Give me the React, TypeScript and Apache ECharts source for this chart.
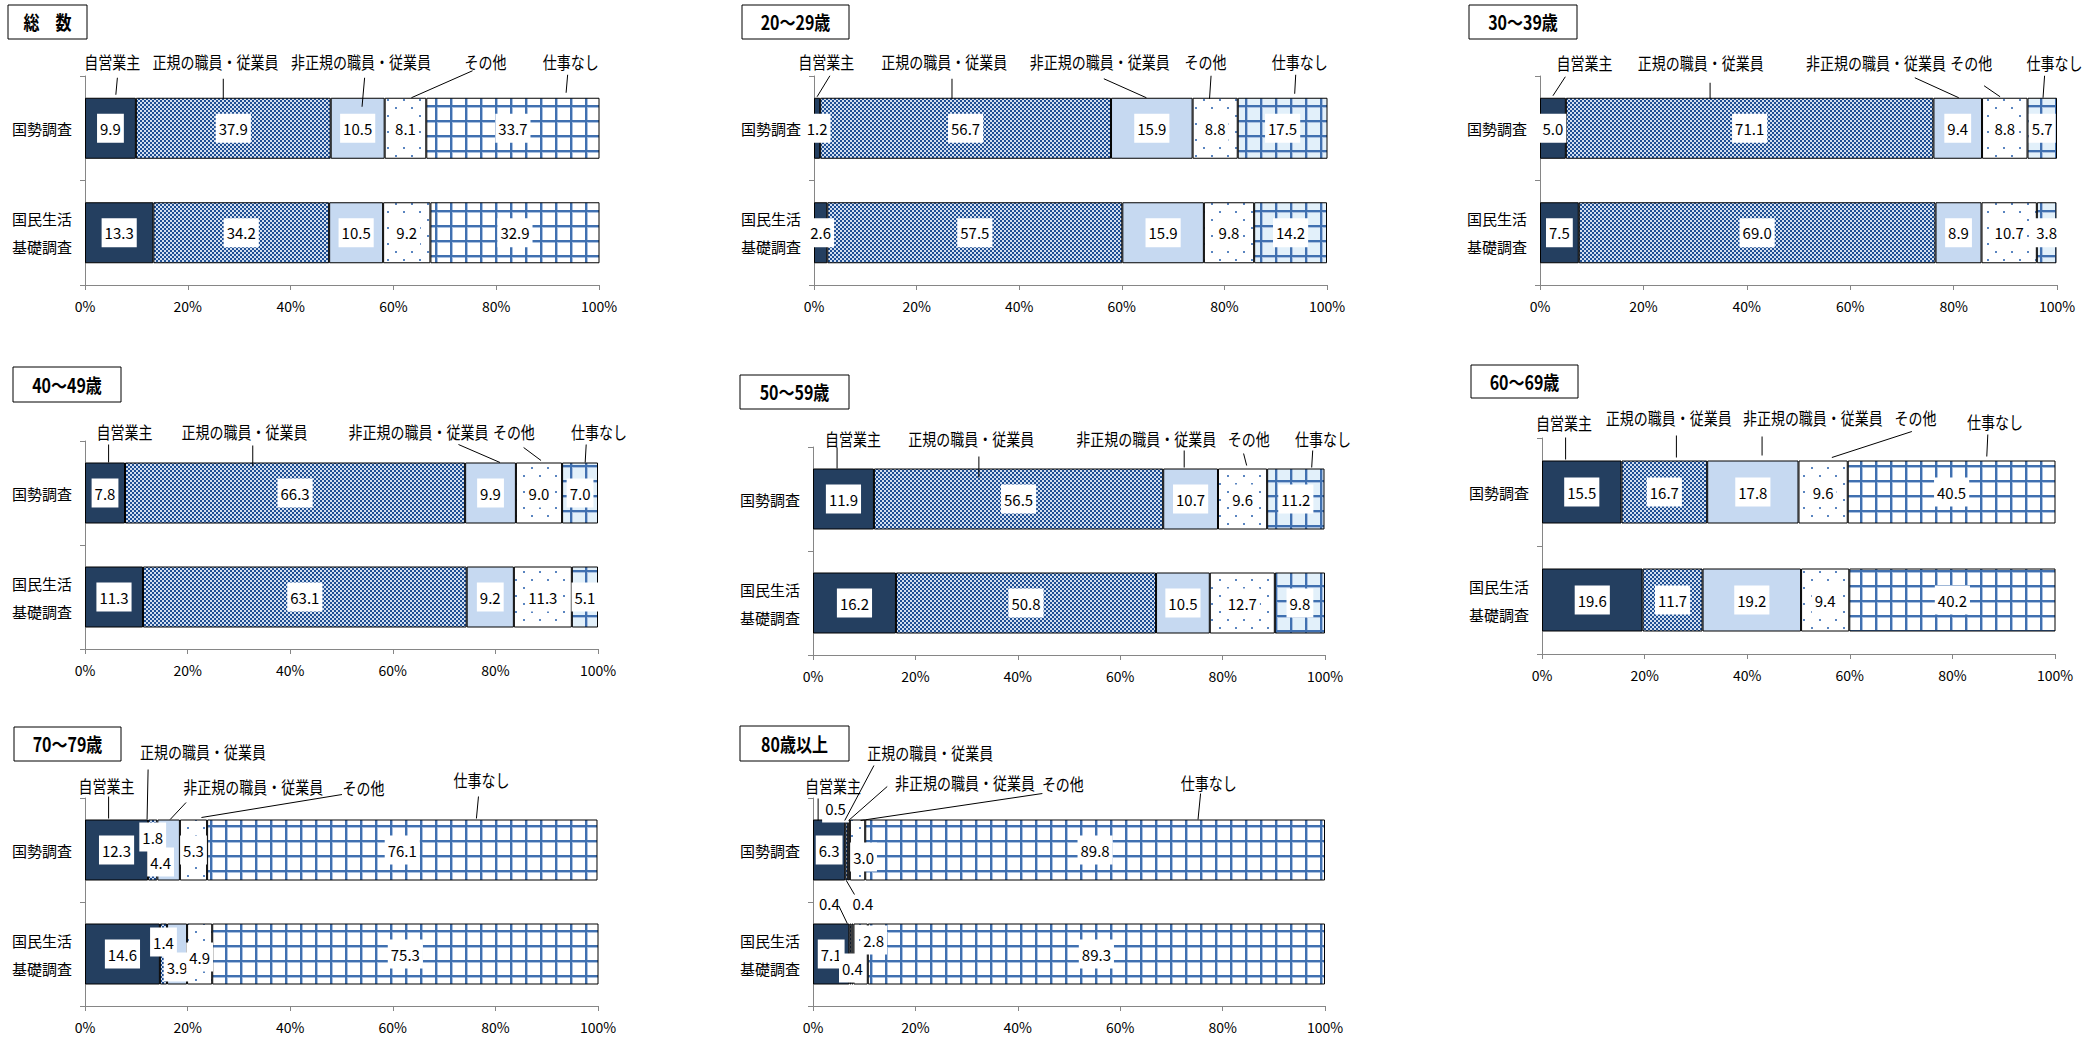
import React, { useEffect, useRef } from 'react';
import * as echarts from 'echarts';

// ---------- data ----------
const seriesNames = ['自営業主', '正規の職員・従業員', '非正規の職員・従業員', 'その他', '仕事なし'];
const surveyNames = ['国勢調査', '国民生活\n基礎調査'];
const panelTitles = ['総　数', '20～29歳', '30～39歳', '40～49歳', '50～59歳', '60～69歳', '70～79歳', '80歳以上'];
const xTickValues = [0, 20, 40, 60, 80, 100];

// each entry: [国勢調査, 国民生活基礎調査] for one panel
const selfEmployed = [[9.9, 13.3], [1.2, 2.6], [5.0, 7.5], [7.8, 11.3], [11.9, 16.2], [15.5, 19.6], [12.3, 14.6], [6.3, 7.1]];
const regular = [[37.9, 34.2], [56.7, 57.5], [71.1, 69.0], [66.3, 63.1], [56.5, 50.8], [16.7, 11.7], [1.8, 1.4], [0.5, 0.4]];
const nonRegular = [[10.5, 10.5], [15.9, 15.9], [9.4, 8.9], [9.9, 9.2], [10.7, 10.5], [17.8, 19.2], [4.4, 3.9], [0.4, 0.4]];
const other = [[8.1, 9.2], [8.8, 9.8], [8.8, 10.7], [9.0, 11.3], [9.6, 12.7], [9.6, 9.4], [5.3, 4.9], [3.0, 2.8]];
const noJob = [[33.7, 32.9], [17.5, 14.2], [5.7, 3.8], [7.0, 5.1], [11.2, 9.8], [40.5, 40.2], [76.1, 75.3], [89.8, 89.3]];
const seriesData = [selfEmployed, regular, nonRegular, other, noJob];

// ---------- layout ----------
const W = 2096;
const H = 1040;
const FONT = '"Noto Sans CJK JP", "Noto Sans", sans-serif';
const TEXT_STRETCH = 1.2;

const panelGrids = [
  { left: 85, top: 76, width: 514, height: 209 },
  { left: 814, top: 76, width: 513, height: 209 },
  { left: 1540, top: 76, width: 517, height: 209 },
  { left: 85, top: 441, width: 513, height: 208 },
  { left: 813, top: 447, width: 512, height: 208 },
  { left: 1542, top: 438, width: 513, height: 216 },
  { left: 85, top: 798, width: 513, height: 208 },
  { left: 813, top: 798, width: 512, height: 208 },
];
const panelBarWidth = [61, 61, 61, 61, 61, 63, 61, 61];
const titleBoxes = [
  [8, 5, 79, 34], [742, 5, 107, 34], [1469, 5, 108, 34],
  [13, 367, 108, 35], [740, 375, 109, 34], [1471, 365, 107, 33],
  [14, 727, 107, 34], [740, 726, 109, 35],
];
const tintedNoJobPanels = [1, 2, 3, 4];

// annotation per panel & series: [textX%, textY(px rel. bar top), lineX1%, lineY1, lineX2%, lineY2]
const annotations = [
  [[5.3, -36, 6.3, -20, 6.0, -3], [25.4, -36, 26.9, -19, 26.9, 1], [53.7, -36, 54.4, -20, 53.9, 9], [77.9, -36, 75.4, -27, 63.5, 0], [94.5, -36, 93.9, -23, 93.6, -5]],
  [[2.4, -36, 3.1, -22, 0.6, -1], [25.4, -36, 26.9, -19, 26.9, 1], [55.7, -36, 56.5, -19, 64.8, 0], [76.3, -36, 77.4, -22, 77.1, 1], [94.7, -36, 93.9, -23, 93.7, -4]],
  [[8.6, -35, 4.9, -21, 2.5, -2], [31.1, -35, 32.9, -15, 32.9, 1], [65.0, -35, 72.5, -20, 81.0, 0], [83.4, -35, 85.9, -12, 89.0, -1], [99.5, -35, 97.6, -22, 97.3, 0]],
  [[7.7, -31, 4.6, -18, 4.6, 0], [31.1, -31, 32.7, -17, 32.7, 4], [65.0, -31, 72.8, -18, 80.9, 0], [83.6, -31, 85.5, -15, 88.9, -2], [100.2, -31, 97.7, -18, 97.5, 0]],
  [[7.8, -30, 4.7, -21, 4.7, 0], [30.9, -30, 32.4, -12, 32.4, 9], [65.1, -30, 72.5, -18, 72.5, -1], [85.1, -30, 84.1, -15, 84.7, -3], [99.6, -30, 97.6, -18, 97.4, -1]],
  [[4.3, -38, 4.6, -23, 4.6, -1], [24.7, -43, 26.2, -25, 26.2, -3], [52.8, -43, 42.9, -24, 42.9, -5], [72.8, -43, 72.1, -29, 56.5, -3], [88.3, -39, 86.9, -26, 86.7, -4]],
  [[4.2, -34, 4.6, -23, 4.6, -1], [23.0, -68, 12.3, -50, 12.1, 0], [32.8, -33, 19.7, -17, 16.6, 0], [54.3, -32, 50.1, -25, 22.7, -2], [77.3, -40, 76.7, -23, 76.3, -1]],
  [[3.9, -34, 1.0, -21, 1.0, 1], [22.9, -67, 11.9, -54, 6.2, 1], [29.7, -37, 14.5, -33, 6.95, 1], [48.8, -36, 44.8, -26, 9.3, 1], [77.3, -37, 75.7, -26, 75.2, 0]],
];

// value label shifts: key panel-series-row -> [dx, dy]
const labelShifts: Record<string, [number, number]> = {
  '6-1-0': [0, -13], '6-2-0': [-8, 12], '6-1-1': [0, -12], '6-2-1': [0, 13], '6-3-1': [0, 3],
  '7-1-0': [-11, -42], '7-2-0': [14, 53], '7-3-0': [6, 7],
  '7-1-1': [-21, -51], '7-2-1': [0, 14], '7-3-1': [13, -14],
};

// extra leader lines for displaced small labels
const extraLines = [
  { panel: 7, row: 0, edge: 'bottom', x1: 6.5, y1: 0, x2: 8.1, y2: 14 },
  { panel: 7, row: 1, edge: 'top', x1: 5.1, y1: -17, x2: 6.7, y2: 0 },
];

function makeTile(w: number, h: number, draw: (ctx: CanvasRenderingContext2D) => void) {
  const c = document.createElement('canvas');
  c.width = w;
  c.height = h;
  const ctx = c.getContext('2d')!;
  draw(ctx);
  return { image: c.toDataURL(), repeat: 'repeat', imageWidth: w, imageHeight: h };
}

function makeFills() {
  const checker = makeTile(4, 4, (ctx) => {
    ctx.fillStyle = '#d3dff0';
    ctx.fillRect(0, 0, 4, 4);
    ctx.fillStyle = '#1f4f93';
    ctx.fillRect(0, 0, 2, 2);
    ctx.fillRect(2, 2, 2, 2);
  });
  const dots = makeTile(16, 16, (ctx) => {
    ctx.fillStyle = '#ffffff';
    ctx.fillRect(0, 0, 16, 16);
    ctx.fillStyle = '#5a85c0';
    ctx.fillRect(3, 3, 2, 2);
    ctx.fillRect(11, 11, 2, 2);
  });
  const grid = (bg: string) =>
    makeTile(15, 15, (ctx) => {
      ctx.fillStyle = bg;
      ctx.fillRect(0, 0, 15, 15);
      ctx.fillStyle = '#a9c0e0';
      ctx.fillRect(2, 0, 1, 15);
      ctx.fillRect(0, 2, 15, 1);
      ctx.fillStyle = '#4070b0';
      ctx.fillRect(0, 0, 2, 15);
      ctx.fillRect(0, 0, 15, 2);
    });
  return {
    selfEmployed: '#243f60',
    regular: checker,
    nonRegular: '#c6d9f1',
    other: dots,
    noJobWhite: grid('#ffffff'),
    noJobTint: grid('#e2f0fa'),
  };
}

function buildOption(fills: any) {
  const grids: any[] = [];
  const xAxes: any[] = [];
  const yAxes: any[] = [];
  const series: any[] = [];
  panelGrids.forEach((g, p) => {
    grids.push({ ...g, containLabel: false });
    xAxes.push({
      gridIndex: p,
      type: 'value',
      min: xTickValues[0],
      max: xTickValues[xTickValues.length - 1],
      interval: xTickValues[1] - xTickValues[0],
      axisLabel: { formatter: '{value}%', fontSize: 14, color: '#000', margin: 14, fontFamily: FONT },
      axisLine: { show: true, lineStyle: { color: '#868686', width: 1 } },
      axisTick: { show: true, length: 5, lineStyle: { color: '#868686' } },
      splitLine: { show: false },
    });
    yAxes.push({
      gridIndex: p,
      type: 'category',
      data: surveyNames,
      inverse: true,
      axisLabel: { fontSize: 15, lineHeight: 28, color: '#000', margin: 13, fontFamily: FONT },
      axisLine: { show: true, lineStyle: { color: '#868686', width: 1 } },
      axisTick: { show: true, length: 5, lineStyle: { color: '#868686' } },
      splitLine: { show: false },
    });
    const colors = [
      fills.selfEmployed,
      fills.regular,
      fills.nonRegular,
      fills.other,
      tintedNoJobPanels.includes(p) ? fills.noJobTint : fills.noJobWhite,
    ];
    seriesNames.forEach((name, s) => {
      series.push({
        type: 'bar',
        name,
        stack: 'panel' + p,
        xAxisIndex: p,
        yAxisIndex: p,
        barWidth: panelBarWidth[p],
        itemStyle: { color: colors[s], borderColor: '#000', borderWidth: 1 },
        label: {
          show: true,
          position: 'inside',
          formatter: (prm: any) => Number(prm.value).toFixed(1),
          backgroundColor: '#fff',
          padding: [7, 3],
          color: '#000',
          fontSize: 15,
          fontFamily: FONT,
        },
        data: seriesData[s][p].map((v, r) => {
          const shift = labelShifts[`${p}-${s}-${r}`];
          return shift ? { value: v, label: { offset: shift } } : { value: v };
        }),
      });
    });
  });
  return {
    animation: false,
    backgroundColor: '#fff',
    textStyle: { fontFamily: FONT },
    grid: grids,
    xAxis: xAxes,
    yAxis: yAxes,
    series,
  };
}

function buildGraphics(chart: any) {
  const els: any[] = [];
  const textEl = (text: string, x: number, y: number, font: string, z: number) => ({
    type: 'text',
    z,
    x,
    y,
    scaleY: TEXT_STRETCH,
    style: {
      text,
      font,
      fill: '#000',
      align: 'center',
      verticalAlign: 'middle',
      textAlign: 'center',
      textVerticalAlign: 'middle',
    },
  });
  panelTitles.forEach((title, p) => {
    const [bx, by, bw, bh] = titleBoxes[p];
    els.push({ type: 'rect', z: 50, shape: { x: bx, y: by, width: bw, height: bh }, style: { fill: '#fff', stroke: '#000', lineWidth: 1 } });
    els.push(textEl(title, bx + bw / 2, by + bh / 2, `bold 16px ${FONT}`, 51));

    const finder = { xAxisIndex: p, yAxisIndex: p };
    const px = (v: number, row: number) => chart.convertToPixel(finder, [v, row]);
    const half = panelBarWidth[p] / 2;
    const barTop = px(0, 0)[1] - half;
    annotations[p].forEach((a, s) => {
      const [tx, ty, x1, y1, x2, y2] = a;
      els.push(textEl(seriesNames[s], px(tx, 0)[0], barTop + ty, `14px ${FONT}`, 51));
      els.push({
        type: 'line',
        z: 50,
        shape: { x1: px(x1, 0)[0], y1: barTop + y1, x2: px(x2, 0)[0], y2: barTop + y2 },
        style: { stroke: '#000', lineWidth: 1 },
      });
    });
  });
  extraLines.forEach((l) => {
    const finder = { xAxisIndex: l.panel, yAxisIndex: l.panel };
    const c = chart.convertToPixel(finder, [0, l.row]);
    const half = panelBarWidth[l.panel] / 2;
    const base = l.edge === 'top' ? c[1] - half : c[1] + half;
    els.push({
      type: 'line',
      z: 50,
      shape: {
        x1: chart.convertToPixel(finder, [l.x1, l.row])[0],
        y1: base + l.y1,
        x2: chart.convertToPixel(finder, [l.x2, l.row])[0],
        y2: base + l.y2,
      },
      style: { stroke: '#000', lineWidth: 1 },
    });
  });
  return els;
}

export default function App() {
  const ref = useRef<HTMLDivElement>(null);
  useEffect(() => {
    const el = ref.current;
    if (!el) return;
    const chart = echarts.init(el, null, { renderer: 'svg', width: W, height: H });
    chart.setOption(buildOption(makeFills()) as any);
    chart.setOption({ graphic: buildGraphics(chart) } as any);
    return () => chart.dispose();
  }, []);
  return (
    <div
      ref={ref}
      style={{ position: 'absolute', left: 0, top: 0, width: W, height: H, background: '#fff' }}
    />
  );
}
